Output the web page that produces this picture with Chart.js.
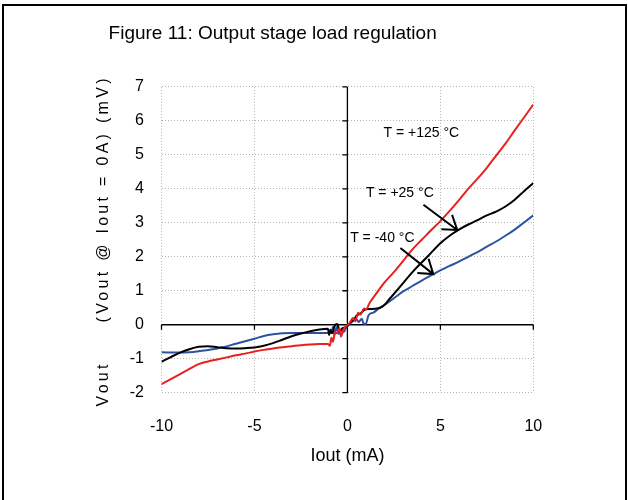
<!DOCTYPE html>
<html>
<head>
<meta charset="utf-8">
<script src="https://cdn.jsdelivr.net/npm/chart.js@4.4.0/dist/chart.umd.min.js"></script>
<style>
  html, body { margin: 0; padding: 0; background: #fff; }
  #frame { position: absolute; left: 2px; top: 4px; width: 621px; height: 520px; border: 2px solid #000; }
  #chart { position: absolute; left: 0; top: 0; }
</style>
</head>
<body>
<div id="frame"></div>
<canvas id="chart" width="628" height="500"></canvas>
<script>
// Iout (mA) / Vout delta (mV)
const redX = [-10, -9.5, -9, -8.5, -8, -7.5, -7, -6.5, -6, -5.5, -5, -4.5, -4, -3.5, -3, -2.5, -2, -1.5, -1.05,
  -0.94, -0.86, -0.78, -0.66, -0.55, -0.42, -0.35, -0.22, -0.05, 0.12, 0.3, 0.42, 0.58, 0.7, 0.9, 1.0, 1.2, 1.5,
  1.75, 2, 2.5, 3, 3.5, 4, 4.5, 5, 5.5, 6, 6.5, 7, 7.5, 8, 8.5, 9, 9.5, 10];
const redY = [-1.75, -1.6, -1.45, -1.3, -1.16, -1.08, -1.02, -0.96, -0.9, -0.85, -0.79, -0.74, -0.7, -0.66, -0.63, -0.6, -0.58, -0.57, -0.57,
  -0.62, -0.38, -0.5, -0.22, -0.25, -0.1, -0.35, -0.15, -0.03, 0.05, 0.2, 0.1, 0.35, 0.3, 0.48, 0.45, 0.65, 0.88,
  1.07, 1.25, 1.55, 1.88, 2.22, 2.5, 2.78, 3.05, 3.35, 3.67, 4.0, 4.3, 4.62, 4.98, 5.33, 5.72, 6.1, 6.48];

const blackX = [-10, -9.5, -9, -8.5, -8, -7.5, -7, -6.5, -6, -5.5, -5, -4.5, -4, -3.5, -3, -2.5, -2, -1.5, -1.05,
  -0.98, -0.92, -0.82, -0.7, -0.58, -0.52, -0.42, -0.3, -0.15, 0, 0.15, 0.35, 0.5, 0.7, 0.9, 1.1, 1.5, 1.9, 2.3,
  2.8, 3.5, 4.3, 5, 5.5, 6, 6.5, 7, 7.5, 8, 8.5, 9, 9.5, 10];
const blackY = [-1.09, -0.95, -0.82, -0.72, -0.65, -0.63, -0.66, -0.69, -0.7, -0.69, -0.67, -0.62, -0.54, -0.44, -0.34, -0.26, -0.19, -0.14, -0.12,
  -0.3, -0.15, -0.25, -0.05, 0.02, 0.0, -0.22, -0.12, -0.08, -0.04, 0.06, 0.15, 0.27, 0.33, 0.43, 0.46, 0.47, 0.54, 0.78,
  1.1, 1.55, 2.0, 2.4, 2.62, 2.8, 2.95, 3.08, 3.22, 3.33, 3.48, 3.68, 3.93, 4.17];

const blueX = [-10, -9, -8.5, -8, -7, -6, -5, -4.5, -4, -3.5, -3, -2, -1, -0.85, -0.78, -0.7, -0.58, -0.47, -0.33,
  -0.2, -0.05, 0.14, 0.33, 0.5, 0.6, 0.78, 0.87, 0.98, 1.14, 1.4, 1.75, 2, 2.5, 3, 3.5, 4, 4.6, 5, 5.5, 6, 6.5,
  7, 7.5, 8, 8.5, 9, 9.5, 10];
const blueY = [-0.81, -0.82, -0.81, -0.78, -0.7, -0.56, -0.41, -0.33, -0.28, -0.25, -0.24, -0.24, -0.24, -0.24, -0.07, -0.3, -0.07, -0.27, -0.15,
  -0.22, -0.07, 0.03, 0.13, 0.15, 0.08, 0.18, 0.03, 0.02, 0.28, 0.36, 0.5, 0.58, 0.78, 0.98, 1.14, 1.3, 1.48, 1.6, 1.73, 1.86, 2.0,
  2.14, 2.3, 2.45, 2.62, 2.8, 3.01, 3.22];

const noteText = ['T = +125 °C', 'T = +25 °C', 'T = -40 °C'];
const noteX = [3.98, 2.82, 1.88];
const noteY = [5.65, 3.88, 2.56];
const arrowFromX = [4.09, 2.85];
const arrowFromY = [3.53, 2.26];
const arrowToX = [5.91, 4.62];
const arrowToY = [2.79, 1.49];

const FONT = "'Liberation Sans', Arial, sans-serif";
const Y_TITLE = 'Vout     (Vout @ Iout = 0A) (mV)';

function toPoints(xs, ys) {
  return xs.map((x, i) => ({ x: x, y: ys[i] }));
}

// black axes through the origin, with small tick marks
const zeroAxes = {
  id: 'zeroAxes',
  beforeDatasetsDraw(c) {
    const ctx = c.ctx, a = c.chartArea, xs = c.scales.x, ys = c.scales.y;
    const x0 = xs.getPixelForValue(0), y0 = ys.getPixelForValue(0);
    ctx.save();
    ctx.strokeStyle = '#000';
    ctx.lineWidth = 1.3;
    ctx.beginPath();
    ctx.moveTo(x0, a.top); ctx.lineTo(x0, a.bottom);
    ctx.moveTo(a.left, y0); ctx.lineTo(a.right, y0);
    ys.ticks.forEach(t => {
      const py = ys.getPixelForValue(t.value);
      ctx.moveTo(x0 - 5, py); ctx.lineTo(x0, py);
    });
    xs.ticks.forEach(t => {
      const px = xs.getPixelForValue(t.value);
      ctx.moveTo(px, y0); ctx.lineTo(px, y0 + 5);
    });
    ctx.stroke();
    ctx.restore();
  }
};

// temperature labels and arrows
const notes = {
  id: 'notes',
  afterDatasetsDraw(c) {
    const ctx = c.ctx, xs = c.scales.x, ys = c.scales.y;
    ctx.save();
    ctx.fillStyle = '#000';
    ctx.font = '14px ' + FONT;
    ctx.textAlign = 'center';
    ctx.textBaseline = 'middle';
    noteText.forEach((t, i) => {
      ctx.fillText(t, xs.getPixelForValue(noteX[i]), ys.getPixelForValue(noteY[i]));
    });
    ctx.strokeStyle = '#000';
    ctx.lineWidth = 2;
    arrowFromX.forEach((_, i) => {
      const x1 = xs.getPixelForValue(arrowFromX[i]), y1 = ys.getPixelForValue(arrowFromY[i]);
      const x2 = xs.getPixelForValue(arrowToX[i]), y2 = ys.getPixelForValue(arrowToY[i]);
      const ang = Math.atan2(y1 - y2, x1 - x2);
      ctx.beginPath();
      ctx.moveTo(x1, y1); ctx.lineTo(x2, y2);
      ctx.moveTo(x2 + 16 * Math.cos(ang - 0.6), y2 + 16 * Math.sin(ang - 0.6));
      ctx.lineTo(x2, y2);
      ctx.lineTo(x2 + 16 * Math.cos(ang + 0.6), y2 + 16 * Math.sin(ang + 0.6));
      ctx.stroke();
    });
    ctx.restore();
  }
};

// spaced-out vertical axis title
const yTitle = {
  id: 'yTitle',
  afterDraw(c) {
    const ctx = c.ctx, a = c.chartArea;
    ctx.save();
    ctx.translate(a.left - 58, (a.top + a.bottom) / 2 + 1);
    ctx.rotate(-Math.PI / 2);
    ctx.font = '16px ' + FONT;
    ctx.letterSpacing = '3.3px';
    ctx.fillStyle = '#000';
    ctx.textAlign = 'center';
    ctx.textBaseline = 'middle';
    ctx.fillText(Y_TITLE, 0, 0);
    ctx.restore();
  }
};

const gridStyle = { color: '#b4b4b4', drawTicks: false, lineWidth: 1 };
const borderStyle = { display: false, dash: [1, 2] };

new Chart(document.getElementById('chart'), {
  type: 'line',
  data: {
    datasets: [
      { label: 'T = +125 °C', data: toPoints(redX, redY), borderColor: '#e8201e', borderWidth: 2, pointRadius: 0, cubicInterpolationMode: 'monotone' },
      { label: 'T = +25 °C', data: toPoints(blackX, blackY), borderColor: '#000000', borderWidth: 2, pointRadius: 0, cubicInterpolationMode: 'monotone' },
      { label: 'T = -40 °C', data: toPoints(blueX, blueY), borderColor: '#2c53a3', borderWidth: 2, pointRadius: 0, cubicInterpolationMode: 'monotone' }
    ]
  },
  options: {
    responsive: false,
    animation: false,
    layout: { padding: { left: 12, right: 94.7, top: 0, bottom: 33.5 } },
    plugins: {
      legend: { display: false },
      tooltip: { enabled: false },
      title: {
        display: true,
        text: 'Figure 11: Output stage load regulation',
        color: '#000',
        font: { family: FONT, size: 19, weight: 'normal' },
        padding: { top: 22.5, bottom: 41.6 }
      }
    },
    scales: {
      x: {
        type: 'linear', min: -10, max: 10,
        ticks: { stepSize: 5, color: '#000', font: { family: FONT, size: 16 }, padding: 24 },
        grid: gridStyle, border: borderStyle,
        title: { display: true, text: 'Iout (mA)', color: '#000', font: { family: FONT, size: 18 }, padding: { top: 10, bottom: 0 } },
        afterFit: s => { s.height = 73.8; }
      },
      y: {
        type: 'linear', min: -2, max: 7,
        ticks: { stepSize: 1, color: '#000', font: { family: FONT, size: 16 }, padding: 17.5 },
        grid: gridStyle, border: borderStyle,
        afterFit: s => { s.width = 149.5; }
      }
    }
  },
  plugins: [zeroAxes, notes, yTitle]
});
</script>
</body>
</html>
